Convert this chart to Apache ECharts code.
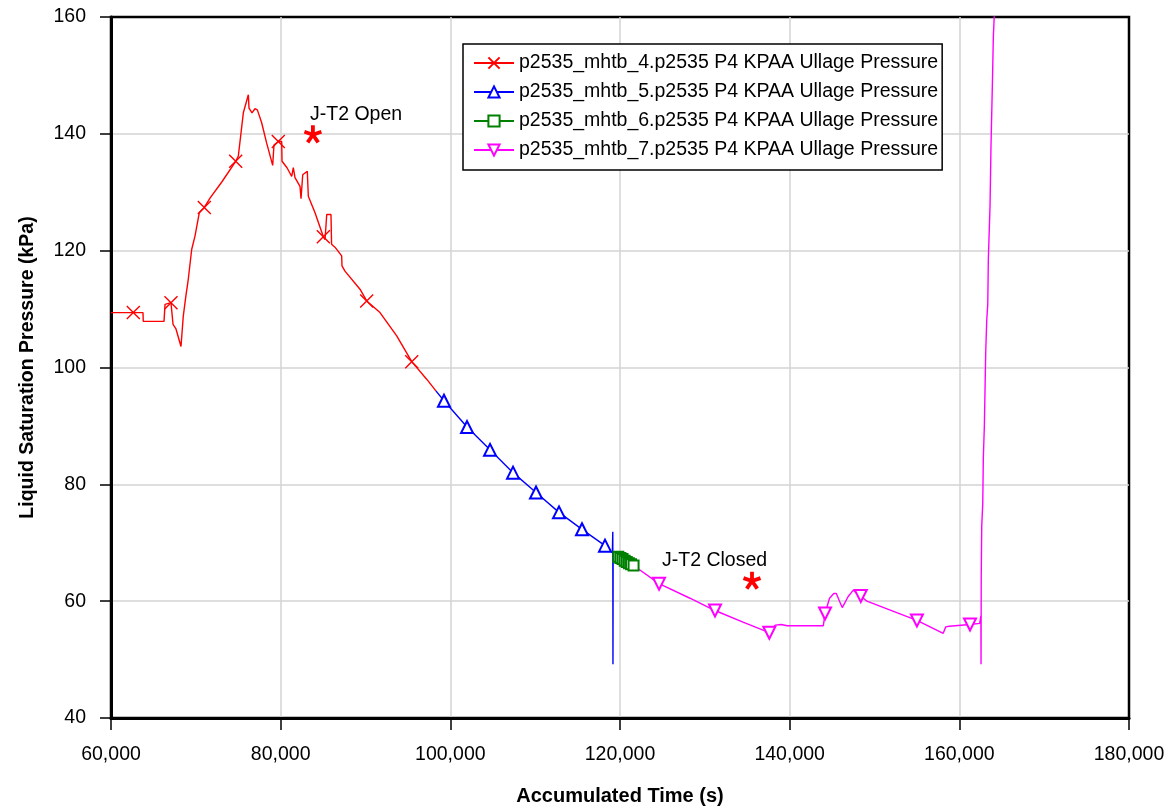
<!DOCTYPE html>
<html>
<head>
<meta charset="utf-8">
<title>Liquid Saturation Pressure</title>
<script src="https://cdn.jsdelivr.net/npm/echarts@6/dist/echarts.min.js"></script>
<style>
  html, body { margin: 0; padding: 0; background: #fff; }
  #chart { width: 1171px; height: 811px; }
</style>
</head>
<body>
<div id="chart"></div>
<script>
// [time (s), pressure (kPa)] for each logged run
const run4 = [
  [60000,109.4],[62630,109.4],[63770,109.4],[63800,107.9],[66250,107.9],[66370,110.8],[67070,111.1],
  [67270,111.0],[67310,107.4],[67660,106.6],[68250,103.6],[68520,108.8],[68840,112.4],[69110,115.1],
  [69510,120.2],[69900,122.5],[70410,126.5],[71000,127.4],[71670,129.0],[73080,131.8],[74700,135.3],
  [75010,136.2],[75600,143.6],[76190,146.7],[76270,144.4],[76620,143.6],[76970,144.3],[77250,144.1],
  [77760,141.9],[78350,138.4],[79060,134.6],[79210,138.1],[79720,138.7],[80120,138.7],[80160,135.3],
  [80750,134.2],[81300,132.7],[81490,134.2],[81690,132.5],[82280,131.0],[82400,128.9],[82600,133.0],
  [83140,133.6],[83260,129.3],[84050,126.5],[85030,122.4],[85230,121.9],[85430,126.2],[85930,126.2],
  [86000,121.1],[86400,120.6],[87190,119.1],[87230,117.4],[87580,116.5],[89350,113.4],[90140,111.4],
  [91710,109.4],[93680,105.4],[95450,101.0],[97210,98.0],[98300,96.0]
];
const run5 = [
  [98300,96.0],[99250,94.3],[101970,89.8],[104680,85.9],[107390,82.0],[110100,78.6],[112810,75.2],
  [115520,72.3],[118230,69.5],[119100,68.3],[119150,71.9],[119170,49.2],[119190,67.9]
];
const run6 = [
  [119800,67.6],[120050,67.4],[120300,67.2],[120550,66.9],[120800,66.7],[121050,66.5],[121300,66.3],[121600,66.1]
];
const run7 = [
  [121600,66.1],[124600,63.0],[128250,60.5],[131200,58.4],[134500,56.4],[137600,54.6],[138300,55.9],
  [139000,56.0],[139700,55.8],[143970,55.8],[144170,57.9],[144700,60.5],[145200,61.3],[145500,61.3],
  [145900,59.9],[146200,58.9],[146900,60.8],[147500,61.9],[147800,61.5],[148380,60.9],[149100,60.0],
  [155000,56.7],[158100,54.5],[158400,55.6],[158800,55.7],[161260,56.0],[162400,56.2],[162500,56.5],
  [162540,57.5],[162560,49.2],[162580,63.9],[162640,72.8],[162760,76.7],[162830,84.6],[162950,90.0],
  [163030,96.3],[163110,102.6],[163230,108.1],[163350,110.8],[163420,118.6],[163620,127.7],[163730,137.8],
  [163890,148.1],[164010,156.6],[164200,163.0]
];

// times at which each run shows its marker
const marks4 = [62630,67070,71000,74700,79720,85030,90140,95450];
const marks5 = [99250,101970,104680,107390,110100,112810,115520,118230];
const marks6 = run6.map(p => p[0]);
const marks7 = [124600,131200,137600,144170,148380,155000,161260];

const seriesNames = [
  'p2535_mhtb_4.p2535 P4 KPAA Ullage Pressure',
  'p2535_mhtb_5.p2535 P4 KPAA Ullage Pressure',
  'p2535_mhtb_6.p2535 P4 KPAA Ullage Pressure',
  'p2535_mhtb_7.p2535 P4 KPAA Ullage Pressure'
];

// valve events
const eventPoints = [[83800,140.0],[135560,63.6]];
const eventLabels = ['J-T2 Open','J-T2 Closed'];
const eventLabelPoints = [[83460,143.3],[124950,67.0]];

const xTicks = { min: 60000, max: 180000, interval: 20000 };
const yTicks = { min: 40, max: 160, interval: 20 };

const font = "'Liberation Sans',Arial,sans-serif";

const crossPath = 'path://M0,0L10,10M10,0L0,10';
const starPath = 'path://M10,0L10,10M10,10L19.5,6.9M10,10L15.9,18.1M10,10L4.1,18.1M10,10L0.5,6.9';

function runSeries(name, data, marks, color, symbol, size, rotate) {
  return {
    name: name,
    type: 'line',
    data: data,
    symbol: symbol,
    symbolRotate: rotate || 0,
    symbolSize: function (v) { return marks.indexOf(v[0]) >= 0 ? size : 0; },
    showAllSymbol: true,
    clip: true,
    animation: false,
    lineStyle: { color: color, width: 1.4 },
    itemStyle: { color: color, borderColor: color, borderWidth: 1.4 },
    emphasis: { disabled: true }
  };
}

const chart = echarts.init(document.getElementById('chart'), null, { renderer: 'canvas' });

chart.setOption({
  backgroundColor: '#fff',
  animation: false,
  grid: {
    left: 111, right: 42, top: 17, bottom: 91,
    show: true, borderColor: '#000', borderWidth: 2.5, backgroundColor: 'transparent'
  },
  legend: {
    orient: 'vertical',
    left: 463, top: 44,
    data: seriesNames,
    itemWidth: 40, itemHeight: 14, itemGap: 9,
    padding: [9, 4, 10, 10],
    backgroundColor: '#fff',
    borderColor: '#000', borderWidth: 1.5, borderRadius: 0,
    textStyle: { fontFamily: font, fontSize: 19.5, color: '#000', lineHeight: 20 },
    selectedMode: false
  },
  xAxis: {
    type: 'value',
    min: xTicks.min, max: xTicks.max, interval: xTicks.interval,
    name: 'Accumulated Time (s)',
    nameLocation: 'middle', nameGap: 68,
    nameTextStyle: { fontFamily: font, fontSize: 20, fontWeight: 'bold', color: '#000' },
    axisLine: { show: true, onZero: false, lineStyle: { color: '#000', width: 3 } },
    axisTick: { show: true, inside: false, length: 12, lineStyle: { color: '#000', width: 1.5 } },
    axisLabel: {
      fontFamily: font, fontSize: 19.5, color: '#000', margin: 27,
      formatter: v => v.toLocaleString('en-US')
    },
    splitLine: { show: true, showMinLine: false, showMaxLine: false, lineStyle: { color: '#d3d3d3', width: 1.5 } }
  },
  yAxis: {
    type: 'value',
    min: yTicks.min, max: yTicks.max, interval: yTicks.interval,
    name: 'Liquid Saturation Pressure (kPa)',
    nameLocation: 'middle', nameGap: 73,
    nameTextStyle: { fontFamily: font, fontSize: 19.5, fontWeight: 'bold', color: '#000' },
    axisLine: { show: true, onZero: false, lineStyle: { color: '#000', width: 3 } },
    axisTick: { show: true, inside: false, length: 11, lineStyle: { color: '#000', width: 1.5 } },
    axisLabel: { fontFamily: font, fontSize: 19.5, color: '#000', margin: 25 },
    splitLine: { show: true, showMinLine: false, showMaxLine: false, lineStyle: { color: '#d3d3d3', width: 1.5 } }
  },
  series: [
    runSeries(seriesNames[0], run4, marks4, '#ff0000', crossPath, 13, 0),
    runSeries(seriesNames[1], run5, marks5, '#0000ff', 'emptyTriangle', 12, 0),
    runSeries(seriesNames[2], run6, marks6, '#008000', 'emptyRect', 10, 0),
    runSeries(seriesNames[3], run7, marks7, '#ff00ff', 'emptyTriangle', 12, 180),
    {
      name: 'events',
      type: 'scatter',
      data: eventPoints,
      symbol: starPath,
      symbolSize: 17,
      silent: true,
      animation: false,
      itemStyle: { color: '#ff0000', borderColor: '#ff0000', borderWidth: 3.8, opacity: 1 },
      z: 5
    },
    {
      name: 'event labels',
      type: 'scatter',
      data: eventLabelPoints.map((p, i) => ({ value: p, name: eventLabels[i] })),
      symbolSize: 0,
      silent: true,
      animation: false,
      itemStyle: { opacity: 1 },
      label: {
        show: true, position: 'right', distance: 0,
        formatter: p => p.name,
        fontFamily: font, fontSize: 19.5, color: '#000', opacity: 1
      },
      z: 5
    }
  ]
});
</script>
</body>
</html>
